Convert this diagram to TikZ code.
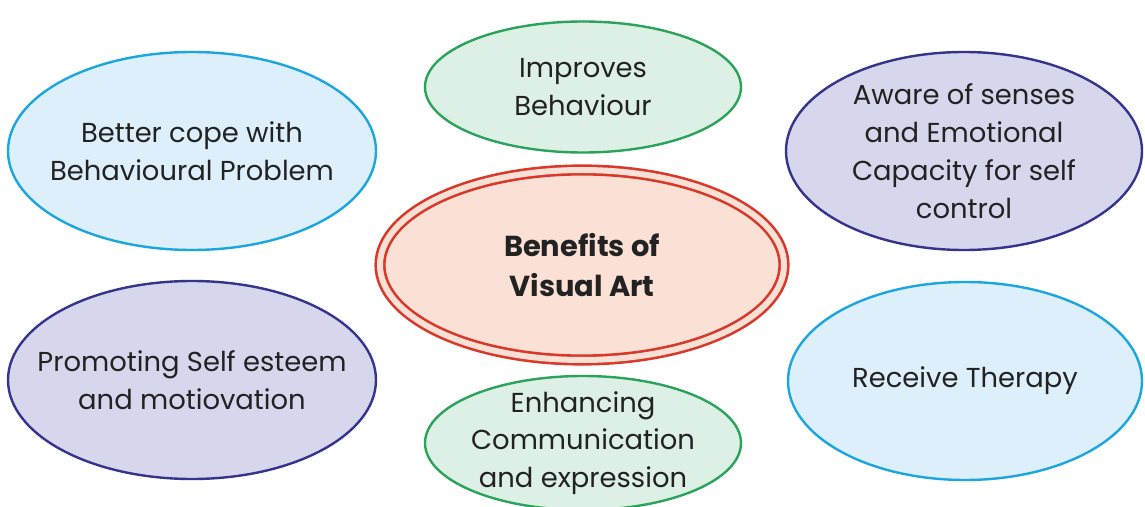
\documentclass[tikz,border=0pt]{standalone}
\usepackage{fontspec}
\setmainfont{Poppins}
\usetikzlibrary{shapes.geometric}

\definecolor{skyline}{HTML}{1BA6DD}
\definecolor{skyfill}{HTML}{DCEFFA}
\definecolor{leafline}{HTML}{2BA35A}
\definecolor{leaffill}{HTML}{DDF0E6}
\definecolor{inkline}{HTML}{35338C}
\definecolor{inkfill}{HTML}{D6D7ED}
\definecolor{coreline}{HTML}{D8392B}
\definecolor{corefill}{HTML}{FBE0D5}
\definecolor{textgray}{HTML}{222222}

\begin{document}
\begin{tikzpicture}[
    x=1bp, y=-1bp,
    % Styles for the bubbles (negative sep: the minimum size fixes the ellipse)
    bubble/.style={ellipse, inner xsep=-80bp, inner ysep=-60bp, line width=2.4bp,
        align=center, text=textgray, font=\fontsize{27.5}{38}\selectfont},
    sky/.style={bubble, draw=skyline, fill=skyfill},
    leaf/.style={bubble, draw=leafline, fill=leaffill},
    ink/.style={bubble, draw=inkline, fill=inkfill},
    core/.style={bubble, draw=coreline, fill=corefill, double=corefill,
        double distance=6bp, line width=2.6bp,
        font=\bfseries\fontsize{29}{40}\selectfont}
]
\useasboundingbox (0,0) rectangle (1145,507);

% --- centre ---
\node[core, minimum width=404bp, minimum height=190bp] (benefits) at (582,265)
    {Benefits of\\Visual Art};

% --- top row ---
\node[sky, minimum width=368bp, minimum height=198bp] (cope) at (192,151)
    {Better cope with\\Behavioural Problem};
\node[leaf, minimum width=316bp, minimum height=131bp] (behaviour) at (583,87)
    {Improves\\Behaviour};
\node[ink, minimum width=356bp, minimum height=198bp] (senses) at (964,151)
    {Aware of senses\\and Emotional\\Capacity for self\\control};

% --- bottom row ---
\node[ink, minimum width=368bp, minimum height=198bp] (esteem) at (192,380)
    {Promoting Self esteem\\and motiovation};
\node[leaf, minimum width=316bp, minimum height=134bp] (communication) at (583,443)
    {Enhancing\\Communication\\and expression};
\node[sky, minimum width=354bp, minimum height=198bp] (therapy) at (965,381)
    {Receive Therapy};

\end{tikzpicture}
\end{document}
